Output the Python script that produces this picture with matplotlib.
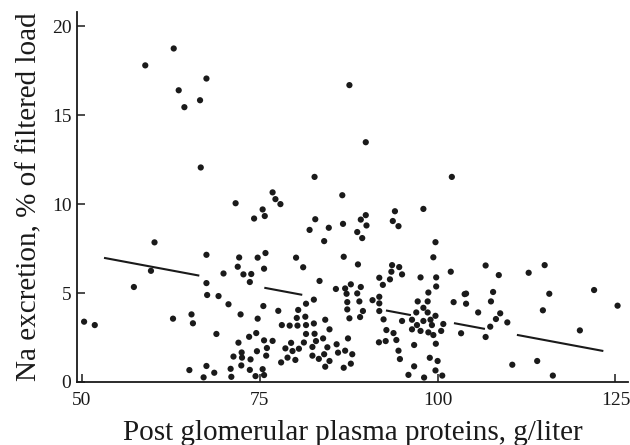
import matplotlib
matplotlib.use("Agg")
import matplotlib.pyplot as plt
import numpy as np

# Post glomerular plasma proteins (g/liter)
protein = [
    50.3, 51.8, 57.3, 58.9, 59.7, 60.2, 62.8, 62.9, 63.6, 64.4,
    65.1, 65.4, 65.6, 66.6, 66.7, 67.1, 67.5, 67.5, 67.5, 67.6,
    67.5, 68.6, 68.9, 69.2, 69.9, 70.6, 70.9, 71.0, 71.3, 71.6,
    71.9, 72.1, 72.0, 72.3, 72.4, 72.45, 72.5, 72.7, 73.5, 73.7,
    73.6, 73.6, 73.8, 74.2, 74.5, 74.7, 74.6, 74.4, 74.7, 75.4,
    75.7, 75.8, 75.6, 75.5, 75.6, 76.0, 75.9, 75.4, 75.6, 76.8,
    77.2, 77.9, 76.8, 77.6, 78.1, 78.0, 78.6, 78.9, 79.2, 79.4,
    79.6, 80.0, 80.1, 80.3, 80.2, 80.4, 80.5, 81.1, 81.4, 81.2,
    81.5, 81.5, 81.5, 82.0, 82.6, 82.6, 82.7, 82.4, 82.4, 82.8,
    82.9, 83.3, 83.4, 82.7, 84.7, 86.7, 84.05, 86.6, 87.6, 89.9,
    89.9, 89.2, 90.0, 88.7, 89.4, 93.7, 94.0, 94.5, 98.0, 99.7,
    99.4, 86.8, 88.8, 93.6, 94.6, 93.5, 95.0, 101.85, 102.0, 91.8,
    93.3, 97.6, 99.8, 92.3, 99.8, 85.7, 87.0, 87.8, 89.2, 87.2,
    88.7, 98.7, 104.0, 102.25, 104.0, 87.3, 89.0, 90.85, 91.8, 91.8,
    97.2, 98.6, 98.0, 87.3, 89.5, 91.8, 97.0, 98.6, 84.2, 87.6,
    89.1, 92.4, 95.0, 96.4, 98.0, 99.0, 99.7, 97.1, 99.2, 100.8,
    96.4, 97.6, 98.7, 99.4, 100.5, 103.3, 84.8, 92.8, 93.8, 83.9,
    87.4, 94.2, 99.75, 85.8, 84.5, 91.75, 92.7, 96.7, 86.0, 87.0,
    88.0, 84.05, 84.8, 94.5, 94.7, 98.9, 100.0, 87.8, 86.8, 84.2,
    96.7, 95.9, 98.1, 99.7, 100.65, 106.75, 108.6, 112.8, 115.05, 115.7,
    122.0, 125.3, 114.8, 107.8, 107.5, 108.8, 108.2, 109.8, 107.4, 106.75,
    105.7, 103.8, 120.0, 110.5, 114.0, 116.2,
]

# Na excretion (% of filtered load)
na_excretion = [
    3.39, 3.2, 5.34, 17.8, 6.25, 7.85, 3.56, 18.75, 16.4, 15.45,
    0.67, 3.8, 3.3, 15.84, 12.06, 0.26, 17.06, 7.15, 5.56, 4.89,
    0.9, 0.52, 2.7, 4.83, 6.1, 4.37, 0.74, 0.29, 1.43, 10.05,
    6.48, 7.0, 2.21, 3.8, 0.93, 1.66, 1.37, 6.05, 2.54, 1.27,
    0.68, 5.62, 6.07, 9.19, 2.75, 3.56, 1.73, 0.33, 6.99, 9.7,
    9.33, 7.25, 6.37, 4.27, 2.34, 1.91, 1.48, 0.72, 0.39, 10.66,
    10.28, 10.0, 2.31, 4.0, 3.2, 1.1, 1.89, 1.37, 3.17, 2.2,
    1.74, 1.24, 6.99, 3.17, 3.6, 4.05, 1.87, 6.45, 3.67, 2.22,
    3.2, 4.4, 2.7, 8.55, 4.63, 3.29, 2.71, 1.97, 1.48, 9.15,
    2.3, 1.3, 5.68, 11.53, 8.67, 8.89, 7.92, 10.5, 16.69, 13.48,
    9.38, 9.13, 8.8, 8.43, 8.09, 9.05, 9.6, 8.76, 9.73, 7.86,
    7.01, 7.04, 6.61, 6.57, 6.46, 6.2, 6.05, 6.2, 11.53, 5.86,
    5.77, 5.88, 5.88, 5.46, 5.37, 5.23, 5.26, 5.49, 5.34, 4.96,
    4.98, 5.03, 4.97, 4.49, 4.4, 4.49, 4.53, 4.6, 4.79, 4.42,
    4.53, 4.53, 4.17, 4.08, 3.99, 3.99, 3.91, 3.91, 3.5, 3.58,
    3.65, 3.52, 3.43, 3.5, 3.43, 3.5, 3.72, 3.2, 3.2, 3.26,
    2.96, 2.87, 2.79, 2.64, 2.87, 2.74, 2.96, 2.92, 2.75, 2.45,
    2.45, 2.36, 2.15, 2.12, 1.95, 2.23, 2.3, 2.08, 1.65, 1.76,
    1.56, 1.56, 1.18, 1.76, 1.29, 1.36, 1.18, 1.03, 0.8, 0.86,
    0.88, 0.4, 0.25, 0.65, 0.36, 6.55, 6.01, 6.14, 6.57, 4.96,
    5.17, 4.29, 4.03, 5.06, 4.53, 3.86, 3.54, 3.35, 3.11, 2.53,
    3.91, 4.94, 2.9, 0.97, 1.18, 0.36,
]

# Regression line as printed
fit_intercept = 10.94
fit_slope = -0.0746
fit_x_range = [53.1, 123.3]

x_ticks = [50, 75, 100, 125]
y_ticks = [0, 5, 10, 15, 20]
x_label = "Post glomerular plasma proteins, g/liter"
y_label = "Na excretion, % of filtered load"

plt.rcParams["font.family"] = ["Liberation Serif", "DejaVu Serif"]
plt.rcParams["lines.scale_dashes"] = False
ink = "#1a1a1a"

fig = plt.figure(figsize=(6.3, 4.45), dpi=100)
ax = fig.add_axes([0.1222, 0.1416, 0.875, 0.8314])

ax.scatter(protein, na_excretion, s=20, color=ink, edgecolors="none", zorder=3)

fx = np.array(fit_x_range)
fy = fit_intercept + fit_slope * fx
ax.plot(fx, fy, color=ink, lw=1.5, zorder=2, solid_capstyle="butt",
        dash_capstyle="butt",
        linestyle=(0, (69.8, 47.6, 27.8, 61.3, 18.3, 31.5, 22.7, 23.4, 70.0, 10)))

ax.set_xlim(49.3, 126.8)
ax.set_ylim(0, 20.8)
ax.set_xticks(x_ticks)
ax.set_yticks(y_ticks)
ax.tick_params(direction="in", length=6, width=1.1, colors=ink,
               labelsize=14, labelcolor=ink)
ax.tick_params(axis="x", pad=7)
ax.tick_params(axis="y", pad=4)

for side in ("top", "right"):
    ax.spines[side].set_visible(False)
for side in ("left", "bottom"):
    ax.spines[side].set_color(ink)
    ax.spines[side].set_linewidth(1.3)

ax.set_xlabel(x_label, fontsize=21, color=ink, labelpad=8)
ax.set_ylabel(y_label, fontsize=21, color=ink, labelpad=7)

fig.savefig("out.png", dpi=100)
